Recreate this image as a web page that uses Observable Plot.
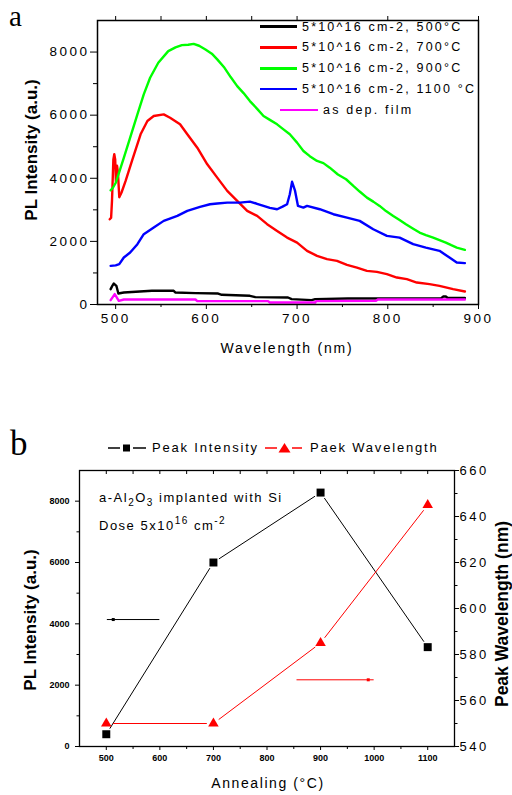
<!DOCTYPE html>
<html>
<head>
<meta charset="utf-8">
<script src="https://cdn.jsdelivr.net/npm/d3@7"></script>
<script src="https://cdn.jsdelivr.net/npm/@observablehq/plot@0.6"></script>
<style>
html,body{margin:0;padding:0;background:#fff;}
#wrap{position:relative;width:512px;height:795px;overflow:hidden;background:#fff;font-family:"Liberation Sans",Arial,sans-serif;color:#000;}
.panel{position:absolute;left:0;}
.t{position:absolute;white-space:nowrap;line-height:1;}
.c{transform:translate(-50%,-50%);}
.r{transform:translate(-50%,-50%) rotate(-90deg);}
.letter{position:absolute;font-family:"Liberation Serif","Times New Roman",serif;line-height:normal;}
.leg{position:absolute;display:flex;align-items:center;height:14px;font-size:12.5px;letter-spacing:2.2px;white-space:nowrap;}
.sw{display:inline-block;height:2.5px;}
</style>
</head>
<body>
<div id="wrap"></div>
<script>
// ---------- Panel a data ----------
const seriesNamesA = ["5*10^16 cm-2, 500°C", "5*10^16 cm-2, 700°C", "5*10^16 cm-2, 900°C", "5*10^16 cm-2, 1100 °C", "as dep. film"];
const seriesColorsA = ["#000000", "#ff0000", "#00ff00", "#0000ff", "#ff00ff"];

const curve500C = [[494.5,487],[496.5,600],[498,665],[500.8,592],[503,350],[509,380],[540,434],[564,434],[566,380],[588,360],[613,348],[617,307],[648,275],[654,234],[690,222],[694,171],[716,139],[720,171],[756,190],[859,200],[861,253],[864,253],[866,205],[885,205]];
const curve700C = [[493.5,2700],[495,2750],[496,3300],[497.5,4600],[498.5,4760],[499.5,4600],[500.3,3900],[501.5,4400],[502.5,4200],[504,3400],[506.5,3550],[511,3915],[518,4548],[527.5,5393],[535,5814],[542,5972],[553,6026],[560,5919],[571,5710],[579,5393],[590,4970],[601,4444],[612,4020],[623,3600],[634,3282],[645,2966],[656,2807],[667,2545],[678,2333],[689,2120],[700,1962],[711,1700],[722,1541],[733,1437],[744,1383],[755,1256],[766,1171],[777,1067],[788,1035],[799,962],[810,855],[821,804],[832,696],[846,645],[857,592],[872,487],[885,412]];
const curve900C = [[494.5,3620],[497,3700],[500,3850],[502,4020],[509,4650],[516,5285],[524,6026],[531,6660],[538,7185],[547,7660],[558,8030],[566,8150],[573,8220],[580,8230],[586,8260],[592,8200],[599,8083],[606,7950],[612,7767],[620,7500],[627,7200],[634,6920],[641,6700],[648,6447],[656,6200],[663,5972],[670,5850],[678,5710],[685,5550],[692,5393],[700,5130],[707,4865],[714,4700],[722,4548],[729,4480],[736,4336],[745,4120],[754,3969],[762,3757],[769,3580],[777,3387],[784,3260],[791,3124],[798,2960],[806,2807],[813,2680],[820,2545],[828,2400],[835,2279],[842,2200],[850,2120],[857,2040],[864,1962],[870,1880],[876,1804],[885,1731]];
const curve1100C = [[494.5,1225],[500,1240],[504,1278],[509,1488],[516,1646],[524,1911],[531,2228],[542,2437],[553,2650],[568,2807],[579,2966],[593,3092],[604,3177],[612,3200],[623,3228],[637,3228],[648,3260],[655,3200],[663,3124],[670,3060],[678,3019],[684,3100],[689,3177],[692,3494],[694.5,3890],[697.8,3600],[701,3124],[707,3070],[711,3124],[725,3019],[740,2861],[755,2754],[769,2650],[784,2386],[799,2174],[813,2120],[828,1911],[842,1804],[857,1700],[868,1488],[876,1330],[885,1310]];
const curveAsDep = [[494.5,139],[499,329],[503.5,117],[509,158],[588,158],[590,108],[668,108],[670,63],[720,63],[721,108],[787,117],[789,158],[885,158]];
const curvesA = [curve500C, curve700C, curve900C, curve1100C, curveAsDep];

const tickA_x = [500, 600, 700, 800, 900];
const minorA_x = [550, 650, 750, 850];
const topA_x = [500, 550, 600, 650, 700, 800, 900];
const tickA_y = [0, 2000, 4000, 6000, 8000];
const minorA_y = [1000, 3000, 5000, 7000];

// ---------- Panel b data ----------
const annealT = [500, 700, 900, 1100];
const peakIntensity = [400, 6000, 8280, 3240];
const peakWavelength = [550, 550, 585, 645];
const legendB = ["Peak Intensity", "Paek Wavelength"];
const tickB_x = [500, 600, 700, 800, 900, 1000, 1100];
const minorB_x = [550, 650, 750, 850, 950, 1050];
const topB_x = [500, 550, 600, 650, 700, 750, 800, 850, 900, 950, 1000, 1050, 1100];
const tickB_yL = [0, 2000, 4000, 6000, 8000];
const minorB_yL = [1000, 3000, 5000, 7000];
const tickB_yR = [540, 560, 580, 600, 620, 640, 660];
const minorB_yR = [550, 570, 590, 610, 630, 650];
// annotation arrows (data units): intensity arrow points left, wavelength arrow points right
const arrowIntensity = [{x1: 502, x2: 600, y: 4140, tip: 513}];
const arrowWavelength = [{x1: 856, x2: 1000, wl: 569, tip: 989}];

const wrap = document.getElementById("wrap");
const FONT = '"Liberation Sans", Arial, sans-serif';

// ---------- Panel a ----------
const plotA = Plot.plot({
  width: 512, height: 370,
  marginLeft: 97, marginRight: 34, marginTop: 20, marginBottom: 66,
  style: {fontFamily: FONT, background: "transparent", overflow: "visible", letterSpacing: "2.5px", color: "#000"},
  x: {domain: [480, 900]},
  y: {domain: [0, 9000]},
  marks: [
    ...curvesA.map((c, i) => Plot.line(c, {x: d => d[0], y: d => d[1], stroke: seriesColorsA[i], strokeWidth: 2.4, strokeLinejoin: "round"})),
    Plot.frame({stroke: "#000", strokeWidth: 1.5}),
    Plot.axisX(tickA_x, {tickSize: 5, tickPadding: 4, fontSize: 13.5, tickFormat: d => String(d), label: null}),
    Plot.axisX(minorA_x, {tickSize: 3, tickFormat: () => "", label: null}),
    Plot.axisX(topA_x, {anchor: "top", tickSize: 5, tickFormat: () => "", label: null}),
    Plot.axisY(tickA_y, {tickSize: 7, tickPadding: 1, fontSize: 13.5, tickFormat: d => String(d), label: null}),
    Plot.axisY(minorA_y, {tickSize: 4, tickFormat: () => "", label: null})
  ]
});
const divA = document.createElement("div");
divA.className = "panel"; divA.style.top = "0px";
divA.appendChild(plotA);
wrap.appendChild(divA);

// ---------- Panel b ----------
const HB = 415, mTopB = 90, mBotB = 49;
const yMaxB = 9000, wlMin = 540, wlMax = 660;
const wlToY = w => (w - wlMin) / (wlMax - wlMin) * yMaxB;
const yToWl = y => wlMin + y / yMaxB * (wlMax - wlMin);
const ptsI = annealT.map((t, i) => ({x: t, y: peakIntensity[i]}));
const ptsW = annealT.map((t, i) => ({x: t, y: wlToY(peakWavelength[i])}));
const segs = pts => d3.pairs(pts).map(([a, b]) => ({x1: a.x, y1: a.y, x2: b.x, y2: b.y}));

const plotB = Plot.plot({
  width: 512, height: HB,
  marginLeft: 79, marginRight: 58, marginTop: mTopB, marginBottom: mBotB,
  style: {fontFamily: FONT, background: "transparent", overflow: "visible", letterSpacing: "2.5px", color: "#000"},
  x: {domain: [450, 1150]},
  y: {domain: [0, yMaxB]},
  marks: [
    Plot.frame({stroke: "#000", strokeWidth: 1.3}),
    Plot.tickX(topB_x, {x: d => d, insetBottom: HB - mTopB - mBotB - 4, stroke: "#000"}),
    Plot.axisX(tickB_x, {tickSize: 4, tickPadding: 4, fontSize: 9, fontWeight: "bold", tickFormat: d => String(d), label: null}),
    Plot.axisX(minorB_x, {tickSize: 3, tickFormat: () => "", label: null}),
    Plot.axisY(tickB_yL, {tickSize: 4, tickPadding: 6, fontSize: 9, fontWeight: "bold", tickFormat: d => String(d), label: null}),
    Plot.axisY(minorB_yL, {tickSize: 2.5, tickFormat: () => "", label: null}),
    Plot.axisY(tickB_yR.map(wlToY), {anchor: "right", tickSize: 4, tickPadding: 1, fontSize: 13, tickFormat: d => String(Math.round(yToWl(d))), label: null}),
    Plot.axisY(minorB_yR.map(wlToY), {anchor: "right", tickSize: 2.5, tickFormat: () => "", label: null}),
    Plot.ruleY(arrowIntensity, {y: "y", x1: "x1", x2: "x2", stroke: "#000", strokeWidth: 1}),
    Plot.dot(arrowIntensity, {x: "tip", y: "y", symbol: "square", fill: "#000", r: 1.7}),
    Plot.ruleY(arrowWavelength, {y: d => wlToY(d.wl), x1: "x1", x2: "x2", stroke: "#ff0000", strokeWidth: 1}),
    Plot.dot(arrowWavelength, {x: "tip", y: d => wlToY(d.wl), symbol: "square", fill: "#ff0000", r: 1.7}),
    Plot.arrow(segs(ptsI), {x1: "x1", y1: "y1", x2: "x2", y2: "y2", headLength: 0, insetStart: 7, insetEnd: 7, stroke: "#000", strokeWidth: 1}),
    Plot.arrow(segs(ptsW), {x1: "x1", y1: "y1", x2: "x2", y2: "y2", headLength: 0, insetStart: 7, insetEnd: 7, stroke: "#ff0000", strokeWidth: 1}),
    Plot.dot(ptsI, {x: "x", y: "y", symbol: "square", fill: "#000", r: 4.5}),
    Plot.dot(ptsW, {x: "x", y: "y", symbol: "triangle", fill: "#ff0000", r: 3.9})
  ]
});
plotB.querySelectorAll('g[font-weight="bold"]').forEach(g => g.style.letterSpacing = "0px");
const divB = document.createElement("div");
divB.className = "panel"; divB.style.top = "380px";
divB.appendChild(plotB);
wrap.appendChild(divB);

// ---------- HTML text overlays ----------
function addText(html, cls, left, top, style) {
  const d = document.createElement("div");
  d.className = cls;
  d.innerHTML = html;
  d.style.left = left + "px";
  d.style.top = top + "px";
  Object.assign(d.style, style || {});
  wrap.appendChild(d);
  return d;
}
// panel letters
addText("a", "letter", 9, 0, {fontSize: "29px"});
addText("b", "letter", 10, 424, {fontSize: "35px"});
// panel a axis titles
addText("PL Intensity (a.u.)", "t r", 31, 150, {fontSize: "17px", fontWeight: "bold"});
addText("Wavelength (nm)", "t c", 287, 348, {fontSize: "14px", letterSpacing: "1.8px"});
// panel a legend
seriesNamesA.forEach((name, i) => {
  const cy = 26.5 + i * 20.9;
  const last = i === seriesNamesA.length - 1;
  const d = document.createElement("div");
  d.className = "leg";
  d.style.left = (last ? 280 : 260) + "px";
  d.style.top = (cy - 7) + "px";
  const sw = document.createElement("span");
  sw.className = "sw";
  sw.style.width = (last ? 38 : 37) + "px";
  sw.style.background = seriesColorsA[i];
  sw.style.marginRight = "5px";
  const tx = document.createElement("span");
  tx.textContent = name;
  d.appendChild(sw); d.appendChild(tx);
  wrap.appendChild(d);
});
// panel b axis titles
addText("PL Intensity (a.u.)", "t r", 30, 620, {fontSize: "17px", fontWeight: "bold"});
addText("Peak Wavelength (nm)", "t r", 503, 614, {fontSize: "17.5px", fontWeight: "bold"});
addText("Annealing (°C)", "t c", 268, 783, {fontSize: "14px", letterSpacing: "1.6px"});
// panel b annotation
addText('a-Al<span style="font-size:10px;position:relative;top:4px">2</span>O<span style="font-size:10px;position:relative;top:4px">3</span> implanted with Si', "t", 99, 491, {fontSize: "13px", letterSpacing: "1.5px", lineHeight: "13px"});
addText('Dose 5x10<span style="font-size:10px;position:relative;top:-6px">16</span> cm<span style="font-size:10px;position:relative;top:-6px">-2</span>', "t", 99, 519, {fontSize: "13px", letterSpacing: "1.5px", lineHeight: "13px"});
// panel b legend
const legB = document.createElement("div");
legB.style.cssText = "position:absolute;left:108px;top:441px;height:14px;font-size:13px;letter-spacing:1.8px;white-space:nowrap;";
legB.innerHTML =
  '<svg width="40" height="14" style="position:absolute;left:0;top:0;overflow:visible">' +
  '<line x1="0" x2="12" y1="7" y2="7" stroke="#000" stroke-width="1.5"/><rect x="15" y="3.5" width="7" height="7" fill="#000"/><line x1="25" x2="38" y1="7" y2="7" stroke="#000" stroke-width="1.5"/></svg>' +
  '<span style="position:absolute;left:44px;top:0;line-height:14px">' + legendB[0] + '</span>' +
  '<svg width="40" height="14" style="position:absolute;left:157px;top:0;overflow:visible">' +
  '<line x1="0" x2="12" y1="7" y2="7" stroke="#ff0000" stroke-width="1.5"/><path d="M19.5,2 L25.5,11.5 L13.5,11.5 Z" fill="#ff0000"/><line x1="27" x2="37" y1="7" y2="7" stroke="#ff0000" stroke-width="1.5"/></svg>' +
  '<span style="position:absolute;left:202px;top:0;line-height:14px">' + legendB[1] + '</span>';
wrap.appendChild(legB);
</script>
</body>
</html>
